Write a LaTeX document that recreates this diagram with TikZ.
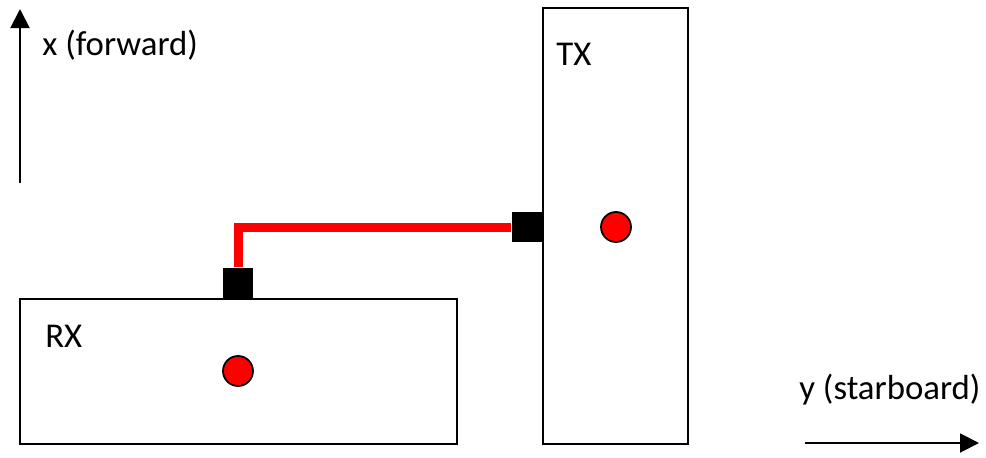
\documentclass[tikz,border=0pt]{standalone}
\usepackage{fontspec}
\setmainfont{Carlito}
\usepackage{tikz}
\usetikzlibrary{arrows.meta}

\tikzset{
  unit/.style={draw, line width=1.1pt, fill=white, inner sep=0pt},
  centre/.style={circle, draw, line width=1pt, fill=red, minimum size=0.6cm, inner sep=0pt},
  port/.style={fill=black, minimum size=0.6cm, inner sep=0pt},
  cable/.style={red, line width=0.18cm},
  axis/.style={line width=1.1pt, -{Triangle[length=0.38cm, width=0.38cm]}},
  lbl/.style={font=\fontsize{19.8}{23}\selectfont, inner sep=0pt}
}

\begin{document}
\begin{tikzpicture}
\useasboundingbox (0,0) rectangle (19.72,9.14);
% Receiver and transmitter bodies
\node[unit, minimum width=8.74cm, minimum height=2.9cm] (rx) at (4.77,1.71) {};
\node[unit, minimum width=2.9cm, minimum height=8.72cm] (tx) at (12.31,4.62) {};
\node[lbl, anchor=west] at (0.9,2.42) {RX}; % receiver label
\node[lbl, anchor=west] at (11.12,8.06) {TX}; % transmitter label
% Reference points
\node[centre] (rxc) at (4.76,1.72) {};
\node[centre] (txc) at (12.32,4.6) {};
% Antenna ports and the cable between them
\node[port, anchor=south] (rxport) at (rx.north -| rxc) {};
\node[port, anchor=east] (txport) at (tx.west |- txc) {};
\draw[cable] (rxport.north) |- (txport.west);
% Axes
\coordinate (xo) at (0.4,5.48);
\coordinate (xe) at (0.4,8.96);
\draw[axis] (xo) -- (xe);
\node[lbl, anchor=west] at (0.84,8.24) {x (forward)};
\coordinate (yo) at (16.1,0.28);
\coordinate (ye) at (19.58,0.28);
\draw[axis] (yo) -- (ye);
\node[lbl, anchor=west] at (15.98,1.34) {y (starboard)};
\end{tikzpicture}
\end{document}
